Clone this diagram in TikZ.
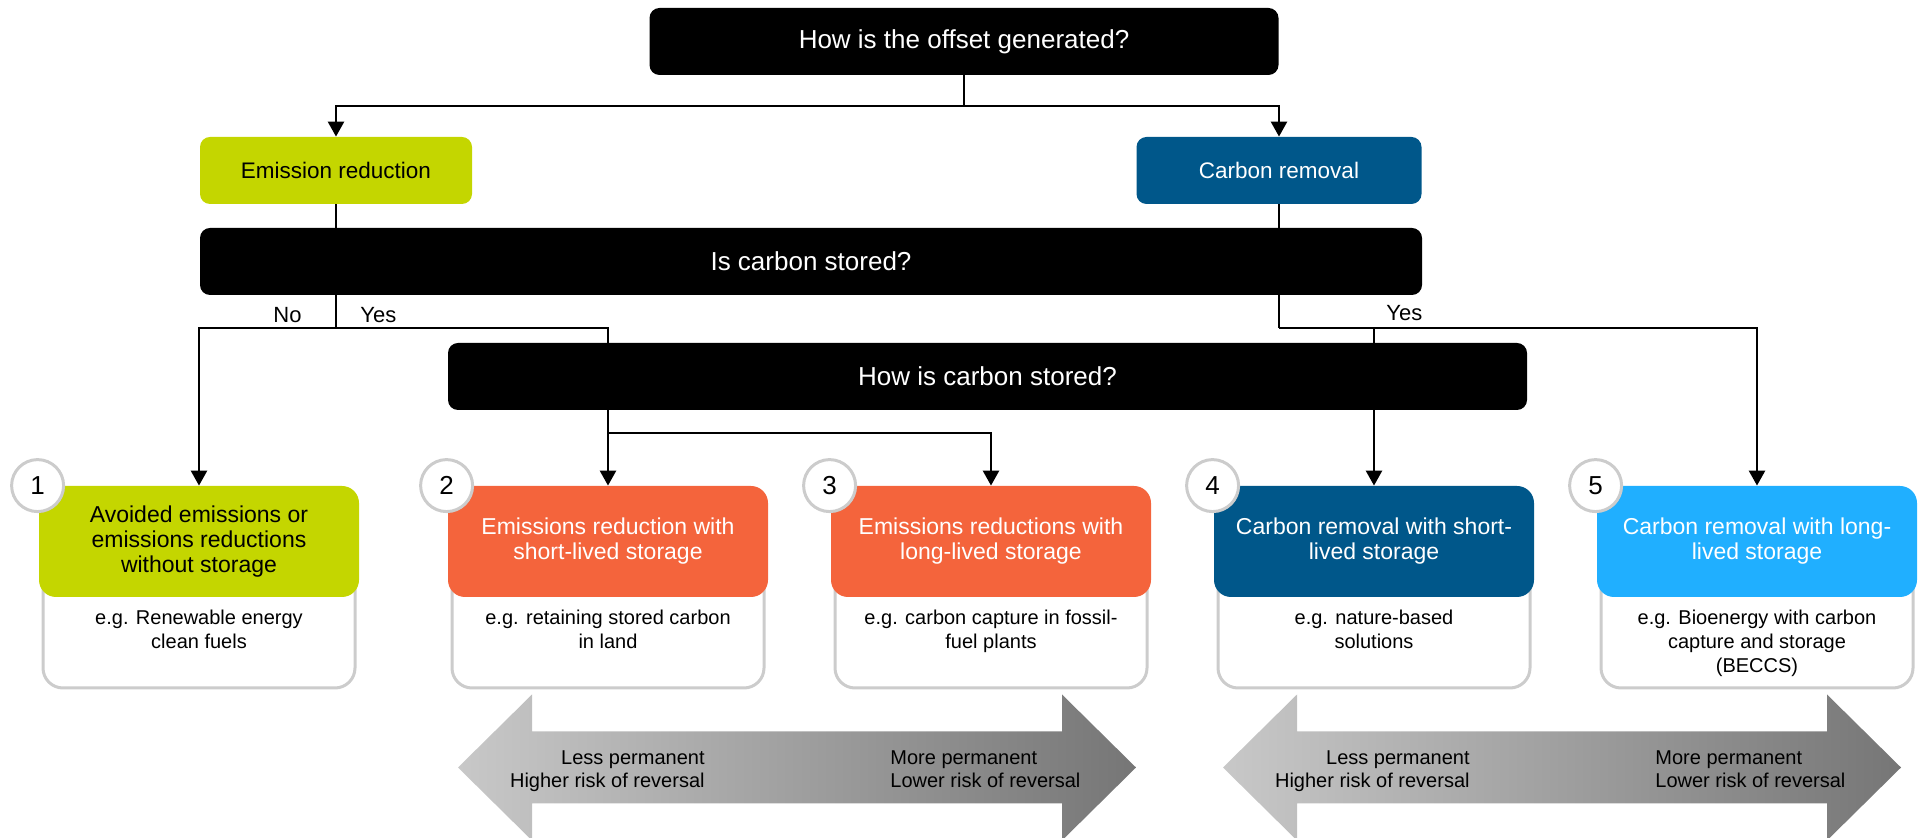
\documentclass[tikz,border=0pt]{standalone}
\usepackage{fontspec}
\setmainfont{Liberation Sans}
\usetikzlibrary{arrows.meta}

\definecolor{limegreen}{RGB}{196,214,0}
\definecolor{deepblue}{RGB}{0,87,138}
\definecolor{coral}{RGB}{244,100,60}
\definecolor{skyblue}{RGB}{32,175,255}
\definecolor{cardgray}{RGB}{204,204,204}
\definecolor{shadelight}{RGB}{200,200,200}
\definecolor{shadedark}{RGB}{118,118,118}

% one outcome: outlined card, coloured heading, number badge, example text
\newcommand\catcard[7]{%
  \draw[card] (#2-156,515) rectangle (#2+156,688);
  \node[head, fill=#4, text=#5] (#1) at (#2,541.5) {#6};
  \node[numcirc] (#1num) at ([xshift=-0.5pt]#1.north west) {#3};
  \node[desc] (#1desc) at (#2,610) {#7};
}

% shaded double arrow for the permanence scale
\newcommand\permarrow[2]{%
  \shade[left color=shadelight, right color=shadedark]
    (#2,767.5) -- (#2+74,694.5) -- (#2+74,731.5) -- (#2+604,731.5)
    -- (#2+604,694.5) -- (#2+678,767.5) -- (#2+604,840.5) -- (#2+604,803.5)
    -- (#2+74,803.5) -- (#2+74,840.5) -- cycle;
  \node[permtext, anchor=north east, align=right] (#1less) at (#2+247,750)
    {Less permanent\\Higher risk of reversal};
  \node[permtext, anchor=north west, align=left] (#1more) at (#2+432,750)
    {More permanent\\Lower risk of reversal};
}

\begin{document}
\begin{tikzpicture}[x=0.5pt, y=-0.5pt,
  qbox/.style={fill=black, text=white, rounded corners=5pt, inner sep=0pt,
    minimum height=33.5pt, font=\fontsize{13}{15}\selectfont},
  tbox/.style={rounded corners=5pt, inner sep=0pt, minimum height=33.5pt,
    font=\fontsize{11.25}{13}\selectfont},
  head/.style={rounded corners=8.5pt, minimum width=160pt, minimum height=55.5pt,
    align=center, inner sep=0pt, font=\fontsize{11.5}{12.5}\selectfont},
  card/.style={draw=cardgray, line width=1.5pt, rounded corners=10pt, fill=white},
  numcirc/.style={circle, draw=cardgray, line width=1.5pt, fill=white,
    minimum size=26pt, inner sep=0pt, font=\fontsize{13}{15}\selectfont},
  desc/.style={anchor=north, align=center, inner sep=0pt,
    font=\fontsize{10}{12}\selectfont},
  permtext/.style={inner sep=0pt, font=\fontsize{10}{11.5}\selectfont},
  lbl/.style={inner sep=0pt, font=\fontsize{11}{13}\selectfont},
  conn/.style={line width=1.3pt},
  arr/.style={conn, -{Triangle[length=7.5pt,width=8pt]}}]

\useasboundingbox (0,0) rectangle (1923,838);
\clip (0,0) rectangle (1923,838);

% questions and first split
\node[qbox, minimum width=314.5pt] (top) at (964,41.5) {How is the offset generated?};
\node[tbox, fill=limegreen, text=black, minimum width=136pt] (er) at (336,170.5) {Emission reduction};
\node[tbox, fill=deepblue, text=white, minimum width=142.5pt] (cr) at (1279,170.5) {Carbon removal};
\node[qbox, minimum width=611pt] (stored) at (811,261.5) {Is carbon stored?};
\node[qbox, minimum width=539.5pt] (how) at (987.5,376.5) {How is carbon stored?};

% outcomes
\catcard{c1}{199}{1}{limegreen}{black}{Avoided emissions or\\emissions reductions\\without storage}{e.g. Renewable energy\\clean fuels}
\catcard{c2}{608}{2}{coral}{white}{Emissions reduction with\\short-lived storage}{e.g. retaining stored carbon\\in land}
\catcard{c3}{991}{3}{coral}{white}{Emissions reductions with\\long-lived storage}{e.g. carbon capture in fossil-\\fuel plants}
\catcard{c4}{1374}{4}{deepblue}{white}{Carbon removal with short-\\lived storage}{e.g. nature-based\\solutions}
\catcard{c5}{1757}{5}{skyblue}{white}{Carbon removal with long-\\lived storage}{e.g. Bioenergy with carbon\\capture and storage\\(BECCS)}

% connectors
\coordinate (j0) at (964,106);
\coordinate (jL) at (336,328);
\coordinate (jS) at (608,433);
\coordinate (jR) at (1279,328);

\draw[conn] (top.south) -- (j0);
\draw[arr] (j0) -| (er.north);
\draw[arr] (j0) -| (cr.north);
\draw[conn] (er.south) -- (er.south |- stored.north);
\draw[conn] (cr.south) -- (cr.south |- stored.north);

\draw[conn] (er.south |- stored.south) -- (jL);
\draw[arr] (jL) -| (c1.north);
\draw[conn] (jL) -| (c2.north |- how.north);
\draw[arr] (c2.north |- how.south) -- (c2.north);
\draw[arr] (jS) -| (c3.north);

\draw[conn] (cr.south |- stored.south) -- (jR);
\draw[arr] (jR) -| (c5.north);
\draw[conn] (c4.north |- jR) -- (c4.north |- how.north);
\draw[arr] (c4.north |- how.south) -- (c4.north);

% branch labels
\node[lbl, anchor=base east] (no) at (302,323) {No};
\node[lbl, anchor=base west] (yesL) at (360,323) {Yes};
\node[lbl, anchor=base west] (yesR) at (1386,321) {Yes};

% permanence scales
\permarrow{pa}{458}
\permarrow{pb}{1223}

\end{tikzpicture}
\end{document}
